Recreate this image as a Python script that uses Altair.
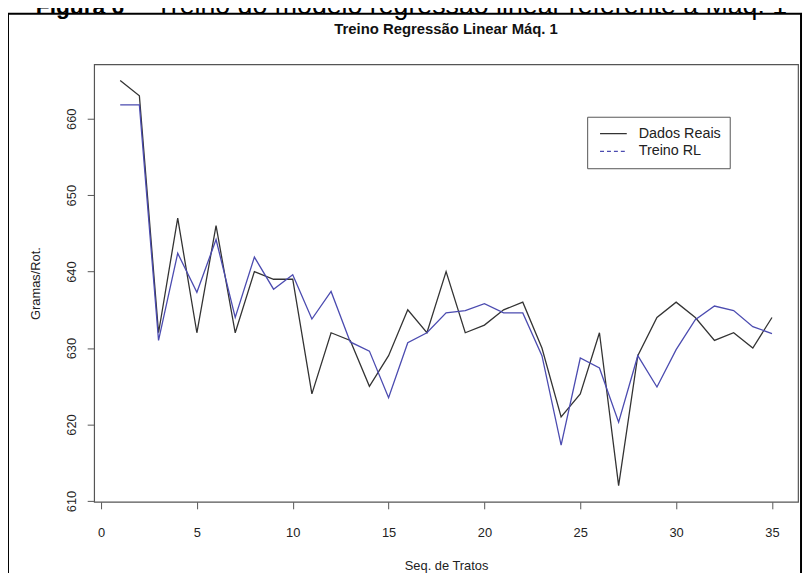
import altair as alt
import pandas as pd

# ---- data ----
seq = list(range(1, 36))
dados_reais = [665, 663, 632, 647, 632, 646, 632, 640, 639, 639,
               624, 632, 631, 625, 629, 635, 632, 640, 632, 633,
               635, 636, 630, 621, 624, 632, 612, 629, 634, 636,
               634, 631, 632, 630, 634]
treino_rl = [661.8, 661.8, 631.0, 642.4, 637.3, 644.2, 634.0, 641.9, 637.7, 639.6,
             633.8, 637.4, 630.8, 629.6, 623.5, 630.7, 632.0, 634.6, 634.9, 635.8,
             634.6, 634.6, 629.0, 617.3, 628.7, 627.4, 620.3, 629.0, 624.9, 629.8,
             633.7, 635.5, 634.9, 632.8, 631.9]
series_names = ["Dados Reais", "Treino RL"]
series_colors = ["#333333", "#4b4bb0"]
x_ticks = [0, 5, 10, 15, 20, 25, 30, 35]
y_ticks = [610, 620, 630, 640, 650, 660]
x_domain = [-0.36, 36.36]
y_domain = [609.88, 667.12]

chart_title = "Treino Regressão Linear Máq. 1"
caption_bold = "Figura 6"
caption_rest = "– Treino do modelo regressão linear referente à Máq. 1"

df = pd.DataFrame({
    "seq": seq + seq,
    "valor": dados_reais + treino_rl,
    "serie": [series_names[0]] * len(seq) + [series_names[1]] * len(seq),
})

FONT = "Liberation Sans"
W, H = 711, 442
one = alt.Data(values=[{"k": 1}])

lines = alt.Chart(df).mark_line(strokeWidth=1.3).encode(
    x=alt.X("seq:Q",
            scale=alt.Scale(domain=x_domain, nice=False, zero=False),
            axis=alt.Axis(values=x_ticks, title="Seq. de Tratos", grid=False, domain=False,
                          tickSize=7, tickColor="#555555", tickWidth=1,
                          labelFont=FONT, labelFontSize=13, labelColor="#222222",
                          labelPadding=24, labelBaseline="middle", labelFlush=False,
                          labelOverlap=False,
                          titleFont=FONT, titleFontSize=13, titleFontWeight="normal",
                          titleColor="#222222", titleX=W / 2, titleY=64,
                          titleAlign="center", titleBaseline="middle")),
    y=alt.Y("valor:Q",
            scale=alt.Scale(domain=y_domain, nice=False, zero=False),
            axis=alt.Axis(values=y_ticks, title="Gramas/Rot.", grid=False, domain=False,
                          tickSize=7, tickColor="#555555", tickWidth=1,
                          labelFont=FONT, labelFontSize=13, labelColor="#222222",
                          labelAngle=270, labelAlign="center", labelBaseline="middle",
                          labelPadding=16, labelFlush=False, labelOverlap=False,
                          titleFont=FONT, titleFontSize=13, titleFontWeight="normal",
                          titleColor="#222222", titleAngle=270, titleX=-59, titleY=H / 2,
                          titleAlign="center", titleBaseline="middle")),
    color=alt.Color("serie:N",
                    scale=alt.Scale(domain=series_names, range=series_colors),
                    legend=alt.Legend(title=None, orient="none", legendX=498, legendY=53,
                                      padding=8, strokeColor="#555555", fillColor="white",
                                      symbolType="stroke", symbolSize=729,
                                      symbolStrokeWidth=1.3,
                                      symbolDash=alt.ExprRef(expr="datum.value == 'Treino RL' ? [4, 3] : [1, 0]"),
                                      clipHeight=18, rowPadding=0, symbolOffset=4,
                                      labelOffset=11, labelFont=FONT, labelFontSize=14.5,
                                      labelColor="#222222")),
)

frame = alt.Chart(one).mark_rect(fill=None, stroke="black", strokeWidth=2).encode(
    x=alt.value(-87), x2=alt.value(714), y=alt.value(-51), y2=alt.value(540)
)

title = alt.Chart(one).mark_text(font=FONT, fontSize=15, fontWeight="bold",
                                 color="#111111", align="center", baseline="alphabetic").encode(
    x=alt.value(W / 2), y=alt.value(-31), text=alt.value(chart_title)
)

cap1 = alt.Chart(one).mark_text(font=FONT, fontSize=23, fontWeight="bold",
                                color="#000000", align="left", baseline="alphabetic").encode(
    x=alt.value(-59), y=alt.value(-51), text=alt.value(caption_bold)
)
cap2 = alt.Chart(one).mark_text(font=FONT, fontSize=27, fontWeight="normal",
                                color="#000000", align="right", baseline="alphabetic").encode(
    x=alt.value(700), y=alt.value(-51), text=alt.value(caption_rest)
)

chart = alt.layer(frame, cap1, cap2, title, lines).properties(
    width=W, height=H, autosize="none",
    padding={"left": 87, "top": 54, "right": 5, "bottom": 69},
    background="white",
).configure_view(stroke="#555555", strokeWidth=1.2)

chart.save("out.html", embed_options={"renderer": "svg", "actions": False})
